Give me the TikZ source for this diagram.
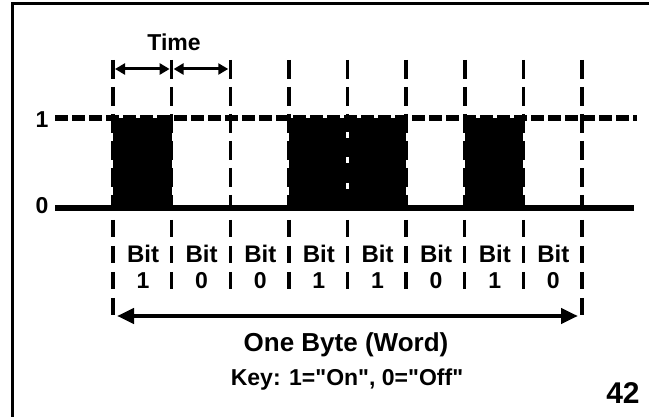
\documentclass[tikz,border=0pt]{standalone}
\usepackage{fontspec}
\setmainfont{Liberation Sans}[Ligatures=TeXOff]
\usetikzlibrary{arrows.meta}
\begin{document}
\begin{tikzpicture}[
		x=1pt, y=-1pt,
		txt/.style={anchor=base, inner sep=0pt, font=\bfseries\fontsize{#1}{#1}\selectfont},
		tick/.style={line width=3.5pt, dash pattern=on 19pt off 8pt},
		lowtick/.style={line width=3.3pt, dash pattern=on 17pt off 9pt},
		level/.style={line width=6pt},
		gapline/.style={white, line width=3pt, dash pattern=on 6pt off 19.5pt},
		timearrow/.style={{Triangle[length=10pt,width=11pt]}-{Triangle[length=10pt,width=11pt]}, line width=3pt, shorten <=2pt, shorten >=2pt},
		bytearrow/.style={{Triangle[length=17pt,width=15pt]}-{Triangle[length=17pt,width=15pt]}, line width=4.5pt, shorten <=4pt, shorten >=4pt}
	]
	\useasboundingbox (0,0) rectangle (649,417);
	\draw[line width=3pt] (12,417) -- (12,4) -- (649,4);

	\coordinate (hi) at (55,118);
	\coordinate (hiend) at (637,118);
	\coordinate (lo) at (55,208);
	\coordinate (loend) at (634,208);
	\foreach \i in {0,...,8} {
			\coordinate (top\i) at ({113+58.625*\i},60);
			\coordinate (mid\i) at ({113+58.625*\i},69);
			\coordinate (bot\i) at ({113+58.625*\i},208);
			\coordinate (low\i) at ({113+58.625*\i},220);
			\coordinate (arr\i) at ({113+58.625*\i},316);
		}

	\fill (bot0 |- hi) rectangle (bot1);
	\fill (bot3 |- hi) rectangle (bot5);
	\fill (bot6 |- hi) rectangle (bot7);

	\foreach \i/\e in {0/318,1/291,2/291,3/291,4/291,5/291,6/291,7/291,8/318} {
			\draw[tick] (top\i) -- (bot\i);
			\draw[lowtick] (low\i) -- (low\i |- 0,\e);
		}
	\draw[gapline] (top4) ++(0,72) -- ++(0,60);

	\draw[level, dash pattern=on 12.5pt off 4.5pt] (hi) -- (hiend);
	\draw[level] (lo) -- (loend);

	\node[txt=23] (one) at (42,128) {1};
	\node[txt=23] (zero) at (42,214) {0};

	\node[txt=23] (time) at (174,51) {Time};
	\draw[timearrow] (mid0) -- (mid1);
	\draw[timearrow] (mid1) -- (mid2);

	\foreach \b [count=\i from 0] in {1,0,0,1,1,0,1,0} {
			\node[txt=24] (bit\i) at ({143+58.625*\i},263) {Bit};
			\node[txt=23] (val\i) at ({143+58.625*\i},289) {\b};
		}

	\draw[bytearrow] (arr0) -- (arr8);
	\node[txt=26] (byte) at (346,352) {One Byte (Word)};
	\node[txt=23] (key) at (347,385) {Key: 1="On", 0="Off"};
	\node[txt=30] (page) at (623,403) {42};
\end{tikzpicture}
\end{document}
